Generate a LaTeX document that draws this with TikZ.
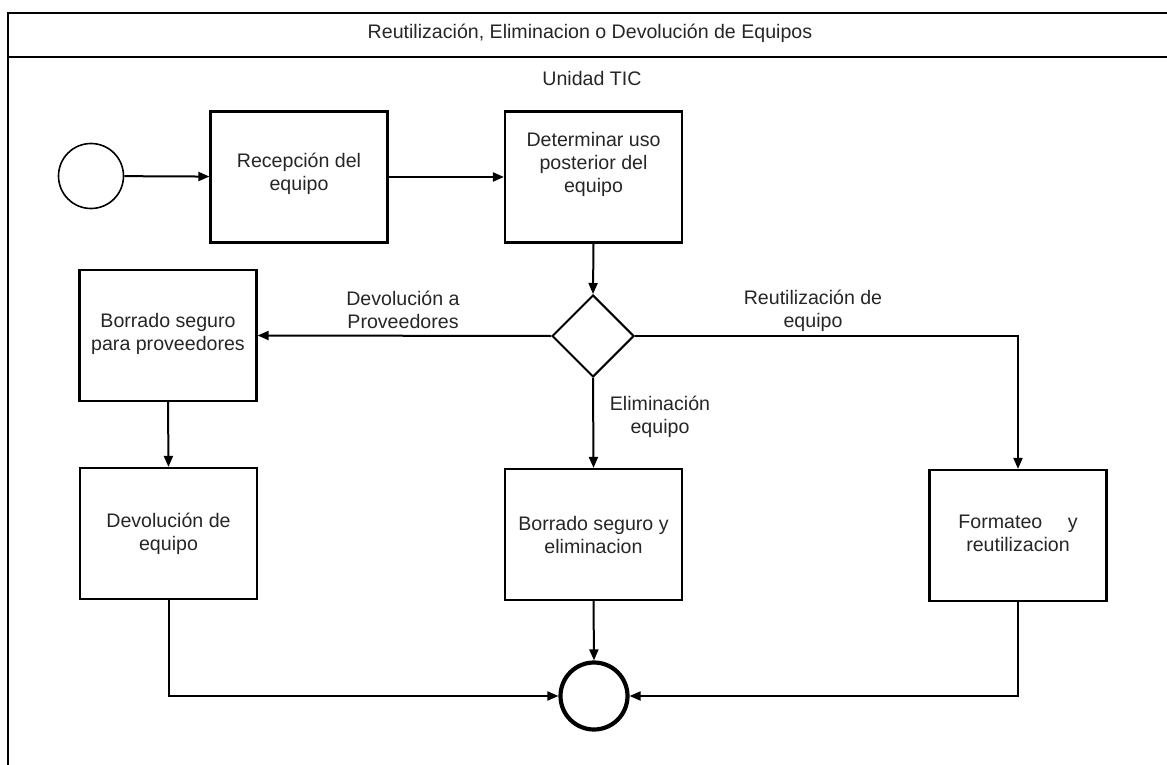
\documentclass[tikz,border=0pt]{standalone}
\usepackage{fontspec}
\setmainfont{Liberation Sans}
\usetikzlibrary{arrows.meta,shapes.geometric}

\begin{document}
\begin{tikzpicture}[x=1pt,y=-1pt,
  every node/.style={font=\fontsize{19.6}{23}\selectfont, text=black!85},
  stepbox/.style={draw, line width=2.2pt, rectangle, minimum width=177pt, minimum height=131pt, inner sep=0pt},
  boxtext/.style={align=center, inner sep=0pt},
  decision/.style={draw, line width=2pt, diamond, minimum width=82pt, minimum height=82pt, inner sep=0pt},
  startev/.style={draw, line width=1.6pt, circle, minimum size=65pt, inner sep=0pt},
  endev/.style={draw, line width=4.2pt, circle, minimum size=67pt, inner sep=0pt},
  flowlabel/.style={align=center, inner sep=1pt},
  flow/.style={line width=2pt, -{Triangle[length=11pt,width=9pt]}},
  frameline/.style={line width=2.6pt}
]
\useasboundingbox (0,0) rectangle (1167,765);

% pool frame and headers
\draw[frameline] (8,765) -- (8,13) -- (1167,13);
\draw[frameline] (8,57) -- (1167,57);
\node (title) at (590,33) {Reutilización, Eliminacion o Devolución de Equipos};
\node (lane) at (592,78) {Unidad TIC};

% events
\node[startev] (start) at (91,176) {};
\node[endev] (finish) at (594,696) {};

% tasks
\node[stepbox] (recep) at (299,177) {};
\node[boxtext] (recept) at ([yshift=3pt]recep.center) {Recepción del\\equipo};

\node[stepbox] (determ) at (593.5,177) {};
\node[boxtext] (determt) at ([yshift=13pt]determ.center) {Determinar uso\\posterior del\\equipo};

\node[decision] (gate) at (593,336) {};

\node[stepbox] (borr) at (168,335.5) {};
\node[boxtext] (borrt) at ([yshift=2pt]borr.center) {Borrado seguro\\para proveedores};

\node[stepbox] (devol) at (168.5,533.5) {};
\node[boxtext] (devolt) at (devol.center) {Devolución de\\equipo};

\node[stepbox] (elim) at (593.5,534.5) {};
\node[boxtext] (elimt) at (elim.center) {Borrado seguro y\\eliminacion};

\node[stepbox] (form) at (1018,535.5) {};
\node[boxtext] (formt) at ([yshift=2pt]form.center) {Formateo\hspace{1.3em}y\\reutilizacion};

% branch labels
\node[flowlabel] (lbdev) at (403,310) {Devolución a\\Proveedores};
\node[flowlabel] (lbreu) at (813,311) {Reutilización de\\equipo};
\node[flowlabel] (lbeli) at (660,417) {Eliminación\\equipo};

% sequence flows
\draw[flow] (start) -- (recep);
\draw[flow] (recep) -- (determ);
\draw[flow] (determ.south) -- (gate.north);
\draw[flow] (gate.west) -- (borr.east);
\draw[flow] (gate.east) -| (form.north);
\draw[flow] (gate.south) -- (elim.north);
\draw[flow] (borr.south) -- (devol.north);
\draw[flow] (devol.south) |- (finish.west);
\draw[flow] (elim.south) -- (finish.north);
\draw[flow] (form.south) |- (finish.east);
\end{tikzpicture}
\end{document}
